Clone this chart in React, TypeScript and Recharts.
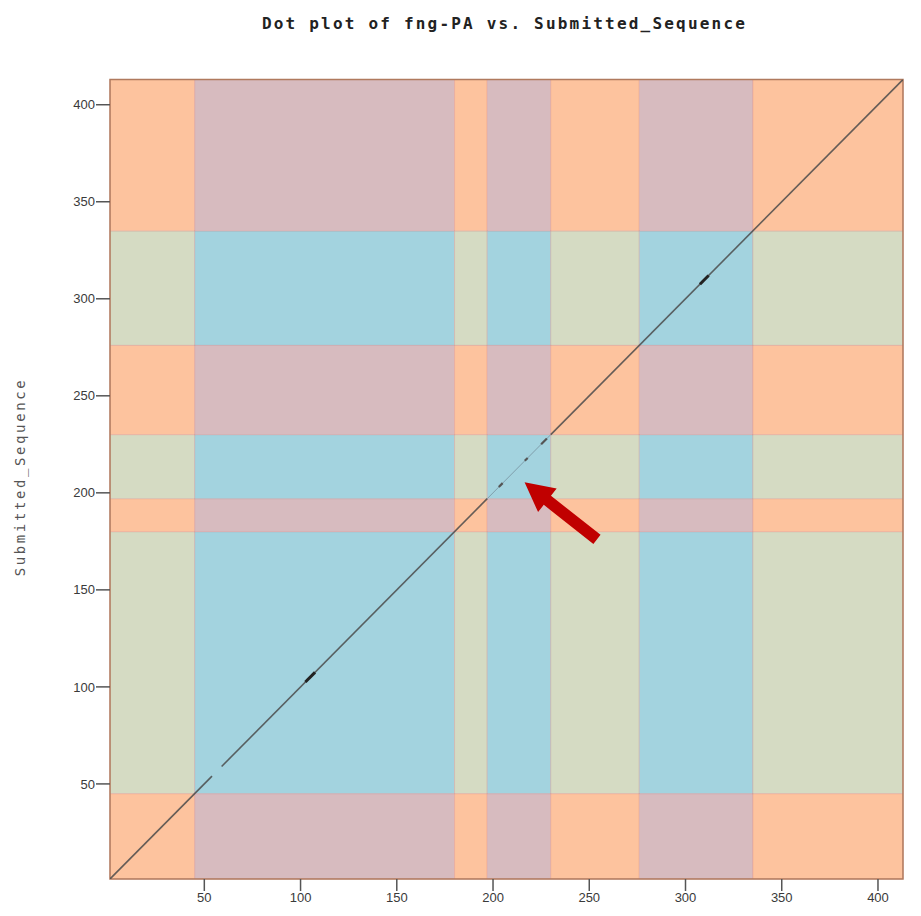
import React from 'react';
import { ComposedChart, Line, XAxis, YAxis, ReferenceArea, ReferenceLine } from 'recharts';

// sequence positions where the domain regions start / end (same for both axes)
const regionBounds = [1, 45, 180, 197, 230, 276, 335, 413];
const regionInDomain = [false, true, false, true, false, true, false];

const axisTicks = [50, 100, 150, 200, 250, 300, 350, 400];

// diagonal match segments (start, end)
const strongMatches = [[1, 54], [59, 197], [230, 413]];
const weakMatches = [[197, 230]];
const thickMarks = [[102.5, 107.5], [307.5, 312]];
const smallDots = [[203, 205], [216.5, 218], [225, 228]];

// annotation arrow: tail -> tip
const arrowTail = { x: 254, y: 176 };
const arrowTip = { x: 216.4, y: 205.4 };

const colors = {
  none: '#fdc39e',
  xOnly: '#d7bbbf',
  yOnly: '#d5dbc3',
  both: '#a3d3df',
};

const toLine = (seg: number[]) => [
  { x: seg[0], y: seg[0] },
  { x: seg[1], y: seg[1] },
];

const Arrow = (props: any) => {
  const { x1, y1, x2, y2 } = props;
  const dx = x2 - x1;
  const dy = y2 - y1;
  const len = Math.sqrt(dx * dx + dy * dy);
  const ux = dx / len;
  const uy = dy / len;
  const nx = -uy;
  const ny = ux;
  const headLen = 29;
  const headHalf = 15;
  const shaftHalf = 5.8;
  const bx = x2 - ux * headLen;
  const by = y2 - uy * headLen;
  const pts = [
    [x1 + nx * shaftHalf, y1 + ny * shaftHalf],
    [bx + nx * shaftHalf, by + ny * shaftHalf],
    [bx + nx * headHalf, by + ny * headHalf],
    [x2, y2],
    [bx - nx * headHalf, by - ny * headHalf],
    [bx - nx * shaftHalf, by - ny * shaftHalf],
    [x1 - nx * shaftHalf, y1 - ny * shaftHalf],
  ];
  return <polygon points={pts.map((p) => p.join(',')).join(' ')} fill="#c00000" />;
};

export default function App() {
  const cells: React.ReactNode[] = [];
  for (let i = 0; i < regionInDomain.length; i++) {
    for (let j = 0; j < regionInDomain.length; j++) {
      const xin = regionInDomain[i];
      const yin = regionInDomain[j];
      const fill = xin && yin ? colors.both : xin ? colors.xOnly : yin ? colors.yOnly : colors.none;
      cells.push(
        <ReferenceArea
          key={`c-${i}-${j}`}
          x1={regionBounds[i]}
          x2={regionBounds[i + 1]}
          y1={regionBounds[j]}
          y2={regionBounds[j + 1]}
          fill={fill}
          fillOpacity={1}
          stroke="rgba(210,120,120,0.25)"
          strokeWidth={1}
        />
      );
    }
  }

  const tickStyle = { fill: '#3a3a3a', fontSize: 13, fontFamily: 'Liberation Sans' };

  return (
    <div style={{ position: 'relative', width: 905, height: 900 }}>
      <div
        style={{
          position: 'absolute',
          left: 496.5,
          top: 15,
          transform: 'translate(-50%, -50%)',
          fontFamily: 'DejaVu Sans Mono',
          fontWeight: 'bold',
          fontSize: 16,
          letterSpacing: 2.2,
          whiteSpace: 'nowrap',
          color: '#222',
        }}
      >
        Dot plot of fng-PA vs. Submitted_Sequence
      </div>
      <div
        style={{
          position: 'absolute',
          left: 12,
          top: 469,
          transform: 'translate(-50%, -50%) rotate(-90deg)',
          fontFamily: 'DejaVu Sans Mono',
          fontSize: 14,
          letterSpacing: 2.6,
          whiteSpace: 'nowrap',
          color: '#555',
        }}
      >
        Submitted_Sequence
      </div>
      <ComposedChart width={905} height={900} margin={{ top: 71.5, right: 10, bottom: 4, left: 42 }}>
        <XAxis
          type="number"
          dataKey="x"
          domain={[1, 413]}
          ticks={axisTicks}
          allowDataOverflow
          axisLine={false}
          tickSize={12}
          tickMargin={2}
          tickLine={{ stroke: '#555', strokeWidth: 1.5 }}
          tick={tickStyle}
          height={25}
        />
        <YAxis
          type="number"
          dataKey="y"
          domain={[1, 413]}
          ticks={axisTicks}
          allowDataOverflow
          axisLine={false}
          tickSize={14}
          tickMargin={1}
          tickLine={{ stroke: '#555', strokeWidth: 1.5 }}
          tick={tickStyle}
          width={60}
        />
        {cells}
        <ReferenceArea x1={1} x2={413} y1={1} y2={413} fill="none" stroke="#b07a5e" strokeWidth={1.5} />
        {weakMatches.map((s, i) => (
          <Line key={`w${i}`} data={toLine(s)} dataKey="y" stroke="#7f9eab" strokeWidth={1} dot={false} isAnimationActive={false} />
        ))}
        {strongMatches.map((s, i) => (
          <Line key={`s${i}`} data={toLine(s)} dataKey="y" stroke="#4a4a4a" strokeOpacity={0.85} strokeWidth={1.6} dot={false} isAnimationActive={false} />
        ))}
        {thickMarks.map((s, i) => (
          <Line key={`t${i}`} data={toLine(s)} dataKey="y" stroke="#222" strokeWidth={3} dot={false} isAnimationActive={false} />
        ))}
        {smallDots.map((s, i) => (
          <Line key={`d${i}`} data={toLine(s)} dataKey="y" stroke="#555" strokeWidth={2.2} dot={false} isAnimationActive={false} />
        ))}
        <ReferenceLine
          segment={[arrowTail, arrowTip]}
          shape={(p: any) => <Arrow {...p} />}
          ifOverflow="visible"
        />
      </ComposedChart>
    </div>
  );
}
